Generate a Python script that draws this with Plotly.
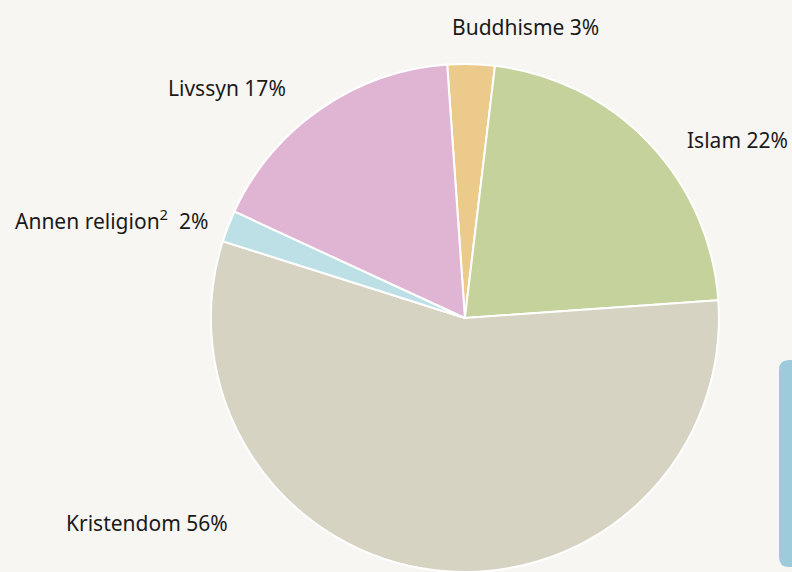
import plotly.graph_objects as go

labels = ["Buddhisme", "Islam", "Kristendom", "Annen religion", "Livssyn"]
values = [3, 22, 56, 2, 17]
colors = ["#ecca8b", "#c5d29c", "#d6d3c2", "#bde0e7", "#e0b5d3"]
label_texts = ["Buddhisme 3%", "Islam 22%", "Kristendom 56%",
               "Annen religion<sup>2</sup>  2%", "Livssyn 17%"]

W, H = 792, 572
BG = "#f7f6f2"

fig = go.Figure()
fig.add_trace(go.Pie(
    labels=labels, values=values, sort=False, direction="clockwise",
    rotation=-4,
    marker=dict(colors=colors, line=dict(color="white", width=2)),
    textinfo="none", hoverinfo="label+percent", showlegend=False,
    domain=dict(x=[0.2, 0.974], y=[0, 1 - 64 / H]),
))

# label placement (pixel positions -> paper)
pos = [(525, 27, "center"), (790, 140, "right"), (230, 523, "right"),
       (210, 220, "right"), (288, 88, "right")]
for t, (px, py, anchor) in zip(label_texts, pos):
    fig.add_annotation(text=t, x=px / W, y=1 - py / H, xref="paper", yref="paper",
                       xanchor=anchor, yanchor="middle", showarrow=False,
                       font=dict(family="Noto Sans", size=21, color="#1a1a1a"))

fig.add_shape(type="path",
              path=f"M {779/W} {1-370/H} Q {779/W} {1-360/H} {789/W} {1-360/H} L {800/W} {1-360/H} "
                   f"L {800/W} {1-567/H} L {789/W} {1-567/H} Q {779/W} {1-567/H} {779/W} {1-557/H} Z",
              xref="paper", yref="paper", fillcolor="#9dcbdc", line=dict(width=0), layer="below")

fig.update_layout(width=W, height=H, margin=dict(l=0, r=0, t=0, b=0),
                  paper_bgcolor=BG, plot_bgcolor=BG)
fig.write_html("out.html", config={"displayModeBar": False},
               post_script="document.body.style.margin='0';document.body.style.overflow='hidden';"
                           "document.body.style.background='" + BG + "';")
